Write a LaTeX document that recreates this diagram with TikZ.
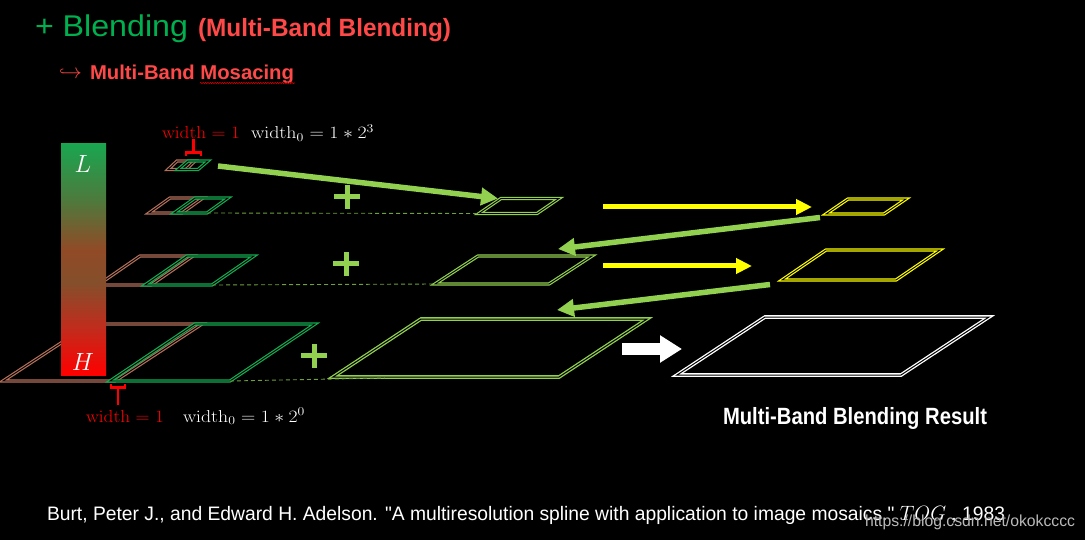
\documentclass[tikz,border=0pt]{standalone}
\usepackage[no-math]{fontspec}
\setmainfont{Liberation Sans}
\newfontfamily\reffont{Liberation Sans}
\usepackage{graphicx}
\usetikzlibrary{arrows.meta,decorations.pathmorphing}
\definecolor{tgreen}{RGB}{0,176,80}
\definecolor{tred}{RGB}{255,72,72}
\definecolor{lg}{RGB}{146,208,80}
\definecolor{dlg}{RGB}{110,160,60}
\definecolor{brn}{RGB}{180,112,90}
\definecolor{pg}{RGB}{20,172,80}
\definecolor{yl}{RGB}{255,255,0}
\definecolor{wmgray}{RGB}{185,185,185}
\pgfdeclareverticalshading{barshade}{100bp}{rgb(0bp)=(1,0,0); rgb(25bp)=(1,0,0); rgb(35bp)=(0.76,0.17,0.11); rgb(45bp)=(0.52,0.31,0.17); rgb(52bp)=(0.57,0.29,0.15); rgb(63bp)=(0.30,0.48,0.24); rgb(75bp)=(0.10,0.65,0.31); rgb(100bp)=(0.10,0.65,0.31)}
\newcommand\fitw[2]{\resizebox{#1}{\height}{#2}}
\newcommand\pgm[6]{\draw[#1] (#2,#3) -- ++(#4,0) -- ++(#5,-#6) -- ++(-#4,0) -- cycle;}
\begin{document}
\begin{tikzpicture}[x=1pt,y=-1pt,
  txt/.style={anchor=base west,inner sep=0pt,outer sep=0pt},
  dbl/.style={draw=#1,double=black,line width=1.2pt,double distance=0.9pt,line join=miter},
  dblb/.style={draw=#1,double=black,line width=1.3pt,double distance=1pt,line join=miter},
  garrow/.style={draw=lg,line width=5.5pt,-{Triangle[length=17pt,width=17pt]}},
  yarrow/.style={draw=yl,line width=5pt,-{Triangle[length=16pt,width=15pt]}},
  dashl/.style={draw=dlg,line width=0.9pt,dash pattern=on 4pt off 3pt},
  plusl/.style={draw=lg,line width=5pt},
  brk/.style={draw=red,line width=2.5pt}]
\useasboundingbox (0,0) rectangle (1085,540);
\fill[black] (0,0) rectangle (1085,540);

% titles
\node[txt,text=tgreen,font=\fontsize{30}{34}\selectfont] (t1) at (35,37) {\fitw{153pt}{+ Blending}};
\node[txt,text=tred,font=\bfseries\fontsize{25}{28}\selectfont] (t2) at (198,37) {\fitw{253pt}{(Multi-Band Blending)}};
\node[txt,text=tred,font=\fontsize{20}{24}\selectfont] (t3a) at (59,79) {$\hookrightarrow$};
\node[txt,text=tred,font=\bfseries\fontsize{20}{24}\selectfont] (t3) at (90,80) {\fitw{204pt}{Multi-Band Mosacing}};
\draw[red!80!black,line width=0.6pt,decorate,decoration={snake,amplitude=0.7pt,segment length=2.4pt}] (200,83) -- (295,83);

% left pyramid
\pgm{dbl=brn}{3}{381}{112}{87}{57}
\pgm{dbl=pg}{110}{381}{120}{85}{57}
\pgm{dbl=brn}{98}{285}{53}{42}{29}
\pgm{dbl=pg}{145}{285}{67}{42}{29}
\pgm{dbl=brn}{149}{213}{33}{21}{15}
\pgm{dbl=pg}{174}{213}{33}{21}{15}
\pgm{dbl=brn}{168}{169.5}{18}{9}{8.5}
\pgm{dbl=pg}{178}{169.5}{20}{10}{8.5}

% gradient bar
\shade[shading=barshade] (61,144) rectangle (106,375);
\node[text=white,font=\fontsize{26}{30}\selectfont] (L) at (83,164) {$L$};
\node[text=white,font=\fontsize{26}{30}\selectfont] (H) at (83,362) {$H$};

% width labels
\node[txt,text=red,font=\fontsize{17}{20}\selectfont] (w1) at (162,139) {\fitw{78pt}{$\mathrm{width}=1$}};
\node[txt,text=white,font=\fontsize{17}{20}\selectfont] (w2) at (251,139) {\fitw{123pt}{$\mathrm{width}_0=1\ast2^3$}};
\node[txt,text=red,font=\fontsize{17}{20}\selectfont] (w3) at (86,422) {\fitw{78pt}{$\mathrm{width}=1$}};
\node[txt,text=white,font=\fontsize{17}{20}\selectfont] (w4) at (183,422) {\fitw{122pt}{$\mathrm{width}_0=1\ast2^0$}};
\draw[brk] (186,156) -- (186,152.5) -- (201,152.5) -- (201,156);
\draw[brk] (193.5,152.5) -- (193.5,139.5);
\draw[brk] (111,384) -- (111,387.5) -- (125,387.5) -- (125,384);
\draw[brk] (118,387.5) -- (118,405);

% middle column
\pgm{dbl=lg}{479}{213.5}{58}{22}{15}
\pgm{dbl=lg}{435}{284}{114}{43}{28}
\pgm{dblb=lg}{333}{377}{226}{88}{58}
% yellow and white
\pgm{dbl=yl}{826}{214}{58}{22}{15}
\pgm{dbl=yl}{782}{280}{114}{44}{30}
\pgm{dblb=white}{677}{375}{224}{88}{58}

% coordinates
\coordinate (d2s) at (207,213);
\coordinate (d2e) at (479,213.5);
\coordinate (d1s) at (212,285);
\coordinate (d1e) at (435,284);
\coordinate (d0s) at (230,381);
\coordinate (d0e) at (385,378);
\coordinate (a1s) at (218,166);
\coordinate (a1e) at (498,198.5);
\coordinate (y1s) at (603,207);
\coordinate (y1e) at (812,207);
\coordinate (y2s) at (603,266);
\coordinate (y2e) at (752,266);
\coordinate (g2s) at (820,217.5);
\coordinate (g2e) at (558,249);
\coordinate (g3s) at (770,284.5);
\coordinate (g3e) at (557,310);
\coordinate (ws) at (622,349);
\coordinate (we) at (682,349);
\coordinate (p1) at (347,197);
\coordinate (p2) at (346,264);
\coordinate (p3) at (314,355.5);

\draw[dashl] (d2s) -- (d2e);
\draw[dashl] (d1s) -- (d1e);
\draw[dashl] (d0s) -- (d0e);
\draw[garrow] (a1s) -- (a1e);
\draw[garrow] (g2s) -- (g2e);
\draw[garrow] (g3s) -- (g3e);
\draw[yarrow] (y1s) -- (y1e);
\draw[yarrow] (y2s) -- (y2e);
\draw[draw=white,line width=12pt,-{Triangle[length=22pt,width=26pt]}] (ws) -- (we);

\foreach \p in {p1,p2,p3}{
  \draw[plusl] ([xshift=-13pt]\p) -- ([xshift=13pt]\p);
  \draw[plusl] ([yshift=-12pt]\p) -- ([yshift=12pt]\p);
}

% result and footer
\node[txt,text=white,font=\bfseries\fontsize{23.5}{26}\selectfont] (res) at (723,424) {\fitw{264pt}{Multi-Band Blending Result}};
\node[txt,text=white,font=\reffont\fontsize{19.5}{22}\selectfont] (ref) at (47,520) {\fitw{958pt}{Burt, Peter J., and Edward H. Adelson. "A multiresolution spline with application to image mosaics." $TOG$ , 1983}};
\node[txt,text=wmgray,font=\fontsize{16}{18}\selectfont] (wm) at (865,526) {\fitw{210pt}{https://blog.csdn.net/okokcccc}};
\end{tikzpicture}
\end{document}
